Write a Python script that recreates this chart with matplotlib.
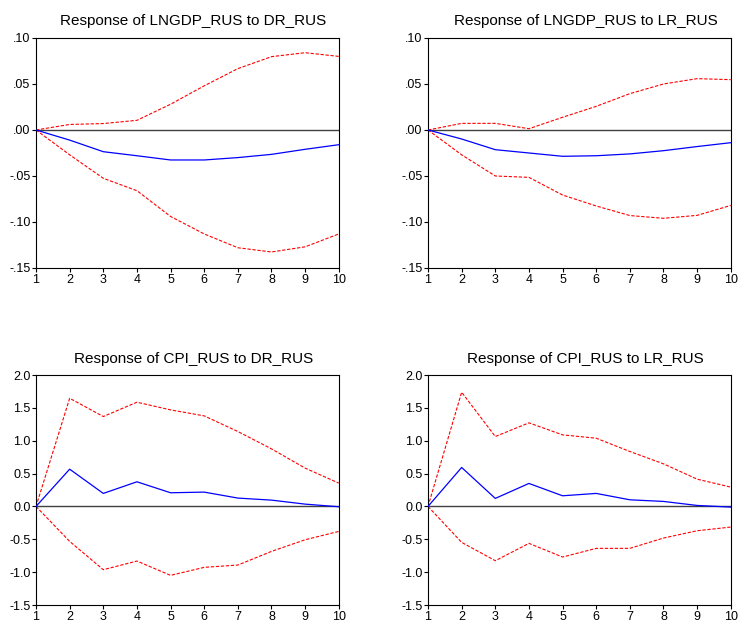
import matplotlib
matplotlib.use('Agg')
import matplotlib.pyplot as plt
from matplotlib.ticker import FuncFormatter

plt.rcParams['font.family'] = ['Liberation Sans', 'DejaVu Sans']

periods = [1, 2, 3, 4, 5, 6, 7, 8, 9, 10]

# Response of LNGDP_RUS to DR_RUS
gdp_dr = [0, -0.011, -0.0236, -0.028, -0.0326, -0.0326, -0.030, -0.0265, -0.021, -0.016]
gdp_dr_up = [0, 0.006, 0.007, 0.0105, 0.028, 0.048, 0.0667, 0.0797, 0.084, 0.080]
gdp_dr_lo = [0, -0.027, -0.0525, -0.066, -0.094, -0.113, -0.128, -0.1326, -0.127, -0.113]

# Response of LNGDP_RUS to LR_RUS
gdp_lr = [0, -0.0098, -0.0214, -0.025, -0.0286, -0.028, -0.026, -0.0225, -0.018, -0.0138]
gdp_lr_up = [0, 0.0072, 0.0072, 0.0014, 0.0138, 0.0257, 0.0395, 0.050, 0.0558, 0.0547]
gdp_lr_lo = [0, -0.027, -0.050, -0.0515, -0.0707, -0.0826, -0.093, -0.096, -0.0928, -0.082]

# Response of CPI_RUS to DR_RUS
cpi_dr = [0, 0.567, 0.198, 0.375, 0.208, 0.218, 0.127, 0.096, 0.035, -0.005]
cpi_dr_up = [0, 1.646, 1.368, 1.586, 1.469, 1.378, 1.14, 0.876, 0.583, 0.355]
cpi_dr_lo = [0, -0.532, -0.963, -0.831, -1.049, -0.927, -0.892, -0.684, -0.507, -0.380]

# Response of CPI_RUS to LR_RUS
cpi_lr = [0, 0.593, 0.122, 0.350, 0.162, 0.198, 0.101, 0.076, 0.015, -0.01]
cpi_lr_up = [0, 1.738, 1.064, 1.272, 1.089, 1.038, 0.836, 0.648, 0.415, 0.294]
cpi_lr_lo = [0, -0.547, -0.826, -0.562, -0.770, -0.638, -0.638, -0.481, -0.370, -0.314]

titles = ['Response of LNGDP_RUS to DR_RUS', 'Response of LNGDP_RUS to LR_RUS',
          'Response of CPI_RUS to DR_RUS', 'Response of CPI_RUS to LR_RUS']
gdp_ticks = [-0.15, -0.10, -0.05, 0.00, 0.05, 0.10]
cpi_ticks = [-1.5, -1.0, -0.5, 0.0, 0.5, 1.0, 1.5, 2.0]


def fmt_gdp(v, pos):
    s = '%.2f' % v
    return s.replace('0.', '.', 1)


def fmt_cpi(v, pos):
    return '%.1f' % v


fig = plt.figure(figsize=(7.55, 6.31), dpi=100)
w, h = 0.401, 0.3645
boxes = [(0.0477, 0.5753), (0.5669, 0.5753), (0.0477, 0.0412), (0.5669, 0.0412)]
panels = [(gdp_dr, gdp_dr_up, gdp_dr_lo), (gdp_lr, gdp_lr_up, gdp_lr_lo),
          (cpi_dr, cpi_dr_up, cpi_dr_lo), (cpi_lr, cpi_lr_up, cpi_lr_lo)]

for i, ((x0, y0), (mid, up, lo), title) in enumerate(zip(boxes, panels, titles)):
    ax = fig.add_axes([x0, y0, w, h])
    ax.axhline(0, color='#404040', lw=1.0, zorder=1)
    ax.plot(periods, up, color='red', ls='--', lw=0.8, dashes=(3, 1.5), zorder=2)
    ax.plot(periods, lo, color='red', ls='--', lw=0.8, dashes=(3, 1.5), zorder=2)
    ax.plot(periods, mid, color='blue', lw=0.9, zorder=3)
    ax.set_xlim(1, 10)
    ax.set_xticks(periods)
    if i < 2:
        ax.set_ylim(-0.15, 0.10)
        ax.set_yticks(gdp_ticks)
        ax.yaxis.set_major_formatter(FuncFormatter(fmt_gdp))
    else:
        ax.set_ylim(-1.5, 2.0)
        ax.set_yticks(cpi_ticks)
        ax.yaxis.set_major_formatter(FuncFormatter(fmt_cpi))
    ax.tick_params(direction='out', length=3, width=0.8, labelsize=9, pad=1,
                   top=False, right=False)
    for sp in ax.spines.values():
        sp.set_linewidth(0.8)
    ax.set_title(title, fontsize=11, pad=9, x=0.52)

fig.savefig('out.png', dpi=100)
